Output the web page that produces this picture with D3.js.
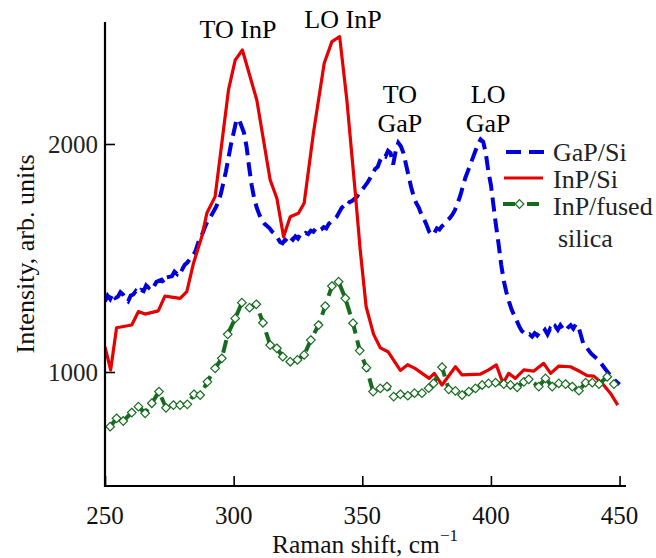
<!DOCTYPE html>
<html>
<head>
<meta charset="utf-8">
<script src="https://cdn.jsdelivr.net/npm/d3@7/dist/d3.min.js"></script>
<style>
  body { margin: 0; background: #fff; }
  svg text { font-family: 'Liberation Serif', 'Times New Roman', Tinos, Times, 'Nimbus Roman', serif; }
</style>
</head>
<body>
<svg id="chart" width="656" height="558"></svg>
<script>
// Raman spectra, [shift cm-1, intensity]
const gapSi = [
  [250, 1310], [251, 1335], [252, 1320], [253, 1345], [254, 1325], [255, 1330], [256, 1350],
  [257, 1340], [258, 1320], [259, 1310], [260, 1335], [261, 1340], [262, 1355], [263, 1345],
  [264, 1360], [265, 1355], [266, 1380], [267, 1370], [268, 1385], [269, 1375], [270, 1395],
  [272, 1405], [273, 1390], [274, 1415], [276, 1420], [277, 1440], [278, 1430], [279, 1455],
  [280, 1450], [281, 1470], [282, 1480], [283, 1495], [284, 1510], [285, 1525], [286, 1560],
  [287, 1590], [288, 1610], [289, 1640], [290, 1665], [291, 1680], [292, 1700], [293, 1720],
  [294, 1745], [295, 1780], [296, 1830], [297, 1880], [298, 1940], [299, 2000], [300, 2050],
  [301, 2100], [302, 2110], [303, 2080], [304, 2050], [305, 1990], [306, 1900], [307, 1820],
  [308, 1760], [309, 1720], [310, 1690], [311, 1665], [312, 1650], [313, 1640], [314, 1630],
  [315, 1615], [316, 1605], [317, 1590], [318, 1570], [319, 1565], [320, 1580], [321, 1570],
  [322, 1590], [323, 1580], [324, 1595], [325, 1585], [326, 1605], [327, 1600], [328, 1610],
  [329, 1605], [330, 1620], [331, 1615], [332, 1630], [333, 1620], [334, 1625], [335, 1635],
  [336, 1630], [337, 1650], [338, 1660], [339, 1670], [340, 1680], [341, 1700], [342, 1720],
  [343, 1730], [344, 1725], [345, 1745], [346, 1750], [347, 1760], [348, 1770], [349, 1790],
  [350, 1800], [351, 1815], [352, 1830], [353, 1850], [354, 1870], [355, 1890], [356, 1900],
  [357, 1930], [358, 1950], [359, 1945], [360, 1970], [361, 1960], [362, 1910], [363, 1970],
  [364, 2005], [365, 1990], [366, 1960], [367, 1910], [368, 1860], [369, 1810], [370, 1770],
  [371, 1740], [372, 1720], [373, 1690], [374, 1670], [375, 1645], [376, 1615], [377, 1600],
  [378, 1610], [379, 1630], [380, 1625], [381, 1640], [382, 1650], [383, 1665], [384, 1675],
  [385, 1690], [386, 1710], [387, 1740], [388, 1770], [389, 1810], [390, 1850], [391, 1880],
  [392, 1910], [393, 1940], [394, 1970], [395, 2000], [396, 2020], [397, 2010], [398, 1960],
  [399, 1880], [400, 1820], [401, 1730], [402, 1640], [403, 1560], [404, 1470], [405, 1400],
  [406, 1350], [407, 1310], [408, 1275], [409, 1250], [410, 1225], [411, 1200], [412, 1180],
  [413, 1170], [414, 1160], [415, 1165], [416, 1155], [417, 1170], [418, 1160], [419, 1175],
  [420, 1170], [421, 1185], [422, 1165], [423, 1190], [424, 1180], [425, 1200], [426, 1185],
  [427, 1205], [428, 1190], [429, 1180], [430, 1195], [431, 1205], [432, 1190], [433, 1210],
  [434, 1200], [435, 1160], [436, 1120], [437, 1110], [438, 1095], [439, 1080], [440, 1070],
  [441, 1060], [442, 1050], [443, 1035], [444, 1020], [445, 1005], [446, 990], [447, 980],
  [448, 965], [449, 955], [450, 945]
];

const inpSi = [
  [250, 1110], [252.2, 1009], [254.5, 1194], [260.4, 1206], [263, 1265], [265.6, 1254],
  [270.7, 1268], [273.3, 1333], [279.2, 1323], [281.8, 1352], [284.4, 1477], [287.6, 1593],
  [289.6, 1697], [292.8, 1769], [298, 2237], [300.6, 2368], [303.4, 2412], [309, 2193],
  [314.2, 1842], [316.8, 1762], [319.4, 1593], [322, 1681], [325.2, 1696], [327.4, 1740],
  [331, 2047], [335.2, 2354], [338.2, 2449], [341.2, 2471], [344, 2193], [347.3, 1784],
  [349.2, 1535], [351.5, 1286], [354.4, 1165], [357, 1106], [360, 1089], [364.8, 1007],
  [367.6, 1032], [370.5, 1016], [376, 972], [378, 994], [381, 943], [386.2, 1023],
  [388.8, 987], [396, 991], [399.1, 1009], [402.1, 1031], [404.7, 950], [406.9, 994],
  [409.5, 972], [412.8, 1009], [416.7, 1004], [420.5, 1038], [423.2, 994], [426.4, 1026],
  [430.9, 1023], [434.8, 1001], [437.4, 984], [440, 982], [443.3, 950], [446.5, 906],
  [449.3, 855]
];

const inpFused = [
  [252, 760], [254.5, 797], [257.1, 785], [260.4, 822], [263, 848], [265.6, 819],
  [268.2, 863], [271, 914], [273.7, 843], [276.6, 855], [279.2, 855], [282, 858],
  [284.6, 902], [287, 899], [289.8, 957], [292.8, 1016], [295.4, 1060], [297.7, 1165],
  [300.6, 1235], [303.2, 1304], [306.2, 1282], [308.8, 1297], [311.4, 1216], [314.2, 1118],
  [316.8, 1104], [319.1, 1067], [322, 1045], [324.8, 1053], [327.4, 1075], [330, 1140],
  [333, 1206], [335.6, 1289], [338.2, 1377], [340.8, 1396], [343.4, 1323], [346.4, 1214],
  [349, 1094], [351.6, 1019], [354.2, 914], [357, 928], [359.6, 936], [362.2, 892],
  [364.8, 902], [367.7, 896], [370.3, 907], [373.2, 907], [375.8, 929], [377.7, 950],
  [381, 1021], [383.6, 924], [386.2, 917], [388.8, 899], [391.4, 914], [394, 928],
  [396.6, 943], [399.1, 950], [401.8, 953], [405, 947], [407.6, 943], [410.2, 933],
  [412.8, 957], [414.7, 968], [418.6, 936], [421.2, 972], [423.8, 936], [426.4, 950],
  [429, 947], [431.6, 936], [434.2, 918], [436.8, 953], [439.4, 953], [442, 947],
  [445.2, 979], [447.8, 947]
];

const xTickLabels = [250, 300, 350, 400, 450];
const yTickLabels = [1000, 2000];
const legendNames = ['GaP/Si', 'InP/Si', 'InP/fused', 'silica'];

// peak labels anchored in data units (shift, intensity of first baseline)
const peakLabels = [
  { lines: ['TO InP'], shift: 301.7, level: 2465 },
  { lines: ['LO InP'], shift: 342.5, level: 2509 },
  { lines: ['TO', 'GaP'], shift: 364.6, level: 2180 },
  { lines: ['LO', 'GaP'], shift: 398.9, level: 2180 }
];

const blue = '#0000dc';
const red = '#e60000';
const green = '#166b1f';
const serif = "'Liberation Serif', 'Times New Roman', Tinos, Times, 'Nimbus Roman', serif";

const svg = d3.select('#chart');

const x = d3.scaleLinear().domain([250, 452.5]).range([105, 626]);
const y = d3.scaleLinear().domain([500, 2535]).range([486, 22]);

svg.append('clipPath').attr('id', 'plot')
  .append('rect')
  .attr('x', 105).attr('y', 18)
  .attr('width', 525).attr('height', 470);

const line = d3.line()
  .x(d => x(d[0]))
  .y(d => y(d[1]));

const plot = svg.append('g').attr('clip-path', 'url(#plot)');

plot.append('path')
  .datum(gapSi)
  .attr('d', line)
  .attr('fill', 'none')
  .attr('stroke', blue)
  .attr('stroke-width', 4)
  .attr('stroke-dasharray', '14,7');

plot.append('path')
  .datum(inpSi)
  .attr('d', line)
  .attr('fill', 'none')
  .attr('stroke', red)
  .attr('stroke-width', 3.2)
  .attr('stroke-linejoin', 'round');

plot.append('path')
  .datum(inpFused)
  .attr('d', line)
  .attr('fill', 'none')
  .attr('stroke', green)
  .attr('stroke-width', 4)
  .attr('stroke-dasharray', '13,7');

const diamond = 'M0,-4.3L4.3,0L0,4.3L-4.3,0Z';

plot.selectAll('.marker')
  .data(inpFused)
  .enter()
  .append('path')
  .attr('class', 'marker')
  .attr('d', diamond)
  .attr('transform', d => `translate(${x(d[0])},${y(d[1])})`)
  .attr('fill', '#fff')
  .attr('stroke', green)
  .attr('stroke-width', 1.2);

// axes: only left and bottom, ticks pointing inward
const xAxis = d3.axisTop(x)
  .tickValues(d3.range(250, 451, 10))
  .tickSize(6)
  .tickFormat('');
const xMajor = d3.axisTop(x)
  .tickValues(xTickLabels)
  .tickSize(10)
  .tickFormat('');

const gx = svg.append('g').attr('transform', 'translate(0,486)');
gx.call(xAxis);
gx.call(xMajor);
gx.selectAll('.domain').remove();
gx.selectAll('line').attr('stroke', '#000').attr('stroke-width', 1.6);

const yAxis = d3.axisRight(y)
  .tickValues(d3.range(600, 2501, 100))
  .tickSize(6)
  .tickFormat('');
const yMajor = d3.axisRight(y)
  .tickValues(yTickLabels)
  .tickSize(10)
  .tickFormat('');

const gy = svg.append('g').attr('transform', 'translate(105,0)');
gy.call(yAxis);
gy.call(yMajor);
gy.selectAll('.domain').remove();
gy.selectAll('line').attr('stroke', '#000').attr('stroke-width', 1.6);

svg.append('path')
  .attr('d', `M${x.range()[0]},${y.range()[1]}V${y.range()[0]}H${x.range()[1]}`)
  .attr('fill', 'none')
  .attr('stroke', '#000')
  .attr('stroke-width', 2.2);

svg.selectAll('.xlabel')
  .data(xTickLabels)
  .enter()
  .append('text')
  .attr('class', 'xlabel')
  .attr('x', d => x(d))
  .attr('y', 524)
  .attr('text-anchor', 'middle')
  .attr('font-family', serif)
  .attr('font-size', 25)
  .attr('fill', '#111')
  .text(d => d);

svg.selectAll('.ylabel')
  .data(yTickLabels)
  .enter()
  .append('text')
  .attr('class', 'ylabel')
  .attr('x', 98)
  .attr('y', d => y(d))
  .attr('dy', '0.35em')
  .attr('text-anchor', 'end')
  .attr('font-family', serif)
  .attr('font-size', 25)
  .attr('fill', '#222')
  .text(d => d);

const xTitle = svg.append('text')
  .attr('x', 365)
  .attr('y', 553)
  .attr('text-anchor', 'middle')
  .attr('font-family', serif)
  .attr('font-size', 25.5)
  .attr('fill', '#111');
xTitle.append('tspan').text('Raman shift, cm');
xTitle.append('tspan')
  .attr('dy', -12)
  .attr('font-size', 17)
  .text('\u22121');

svg.append('text')
  .attr('transform', 'translate(34,254) rotate(-90)')
  .attr('text-anchor', 'middle')
  .attr('font-family', serif)
  .attr('font-size', 26)
  .attr('fill', '#111')
  .text('Intensity, arb. units');

// peak annotations
peakLabels.forEach(p => {
  const t = svg.append('text')
    .attr('text-anchor', 'middle')
    .attr('font-family', serif)
    .attr('font-size', 26)
    .attr('fill', '#000');
  p.lines.forEach((s, i) => {
    t.append('tspan')
      .attr('x', x(p.shift))
      .attr('y', y(p.level) + i * 29)
      .text(s);
  });
});

// legend
const legend = svg.append('g').attr('transform', 'translate(504,152)');

legend.append('line')
  .attr('x1', 2).attr('x2', 41).attr('y1', 0).attr('y2', 0)
  .attr('stroke', blue).attr('stroke-width', 4)
  .attr('stroke-dasharray', '15,8');
legend.append('line')
  .attr('x1', 0).attr('x2', 39).attr('y1', 26).attr('y2', 26)
  .attr('stroke', red).attr('stroke-width', 3);
legend.append('line')
  .attr('x1', -1).attr('x2', 39).attr('y1', 52).attr('y2', 52)
  .attr('stroke', green).attr('stroke-width', 4)
  .attr('stroke-dasharray', '12,12');
legend.append('path')
  .attr('d', diamond)
  .attr('transform', 'translate(15.5,52)')
  .attr('fill', '#fff')
  .attr('stroke', green)
  .attr('stroke-width', 1.2);

legend.selectAll('.name')
  .data(legendNames)
  .enter()
  .append('text')
  .attr('class', 'name')
  .attr('x', (d, i) => i === 3 ? 54 : 49)
  .attr('y', (d, i) => i * 27 + (i === 3 ? 5 : 0))
  .attr('dy', '0.35em')
  .attr('font-family', serif)
  .attr('font-size', 26)
  .attr('fill', '#222')
  .text(d => d);
</script>
</body>
</html>
